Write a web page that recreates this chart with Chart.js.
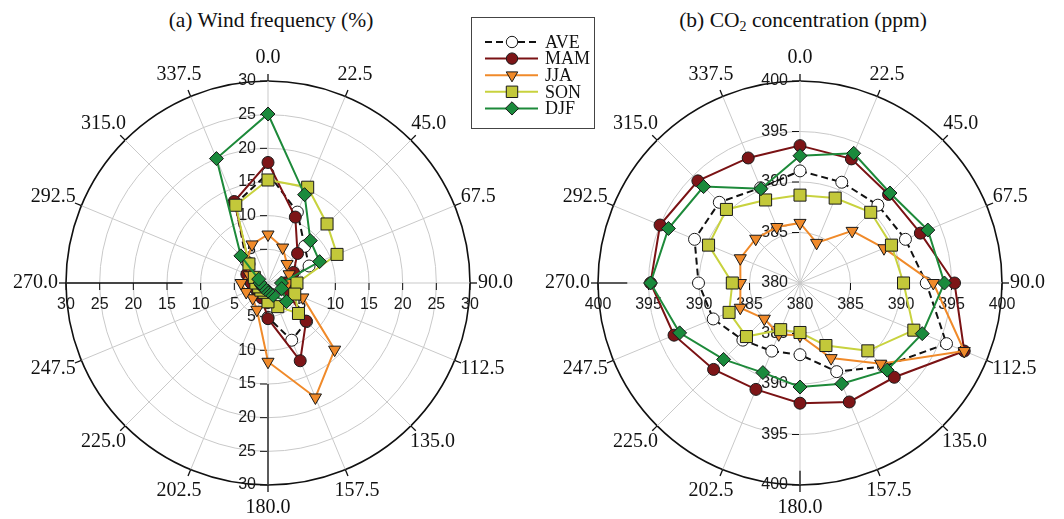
<!DOCTYPE html>
<html>
<head>
<meta charset="utf-8">
<script src="https://cdn.jsdelivr.net/npm/chart.js@4.4.1/dist/chart.umd.min.js"></script>
<style>
  html, body { margin:0; padding:0; background:#fff; }
  #wrap { position:relative; width:1064px; height:519px; overflow:hidden; }
  canvas { position:absolute; top:0; }
  .title { position:absolute; top:7px; font-family:"Liberation Serif","Times New Roman",serif; font-size:21.5px; line-height:26px; color:#111; white-space:nowrap; transform:translateX(-50%); }
  .title sub { font-size:14px; vertical-align:-4px; line-height:0; }
</style>
</head>
<body>
<div id="wrap">
  <div class="title" style="left:271px">(a) Wind frequency (%)</div>
  <div class="title" style="left:803px">(b) CO<sub>2</sub> concentration (ppm)</div>
  <canvas id="c1" width="600" height="519" style="left:0"></canvas>
  <canvas id="c2" width="532" height="519" style="left:532px"></canvas>
</div>
<script>
// ---------- data ----------
const directions = ['0.0','22.5','45.0','67.5','90.0','112.5','135.0','157.5','180.0','202.5','225.0','247.5','270.0','292.5','315.0','337.5'];
const seriesNames = ['AVE','MAM','JJA','SON','DJF'];

const windTicks = [0,5,10,15,20,25,30];
const windAVE = [16.3, 11.4, 7.7, 6.6, 2.6, 3.4, 8.1, 9.2, 5.1, 2.3, 2.1, 2.1, 2.4, 2.7, 4.5, 12.7];
const windMAM = [17.9, 10.6, 6.2, 4.1, 2.8, 3.0, 8.0, 12.5, 5.3, 2.4, 2.0, 2.0, 2.5, 3.4, 4.0, 13.1];
const windJJA = [7.2, 5.7, 4.0, 3.4, 3.0, 5.6, 14.0, 18.4, 11.7, 4.3, 3.2, 3.5, 4.0, 3.0, 4.5, 6.2];
const windSON = [15.3, 15.4, 12.4, 11.1, 4.3, 4.3, 6.4, 3.8, 2.8, 1.5, 1.5, 1.5, 1.8, 2.2, 4.0, 12.5];
const windDJF = [25.1, 14.2, 8.9, 8.3, 2.0, 2.2, 3.9, 2.0, 1.2, 1.0, 1.0, 1.0, 1.2, 1.5, 5.7, 20.0];

const co2Ticks = [380,385,390,395,400];
const co2AVE = [391.1, 390.8, 390.9, 391.3, 392.5, 395.7, 391.7, 389.5, 387.1, 387.3, 388.0, 389.3, 390.05, 391.3, 391.3, 390.2];
const co2MAM = [393.6, 393.3, 392.4, 392.9, 395.3, 397.6, 393.2, 392.75, 391.9, 391.4, 392.1, 393.5, 394.8, 395.0, 394.3, 393.4];
const co2JJA = [385.95, 384.3, 387.3, 389.0, 393.2, 397.6, 391.3, 388.05, 385.2, 385.5, 385.0, 386.4, 385.9, 386.4, 386.2, 386.0];
const co2SON = [388.7, 389.1, 389.9, 389.8, 390.25, 392.2, 389.5, 386.7, 384.9, 385.0, 387.5, 387.6, 386.7, 389.8, 390.3, 388.9];
const co2DJF = [392.6, 393.9, 392.6, 393.7, 394.3, 393.1, 392.2, 390.8, 390.3, 389.6, 390.7, 392.9, 394.8, 394.1, 393.5, 390.1];

// ---------- styles ----------
const seriesStyle = {
  AVE: { line:'#111111', fill:'#ffffff', point:'circle',   radius:6,   rotation:0,   dash:[7,4], order:5 },
  MAM: { line:'#7a1214', fill:'#7d1517', point:'circle',   radius:6,   rotation:0,   dash:[],    order:4 },
  JJA: { line:'#f08a2a', fill:'#f08a2a', point:'triangle', radius:7,   rotation:180, dash:[],    order:3 },
  SON: { line:'#c8d23e', fill:'#c3c83a', point:'rect',     radius:8.5, rotation:0,   dash:[],    order:2 },
  DJF: { line:'#1d8a3a', fill:'#1a8a3c', point:'rectRot',  radius:7,   rotation:0,   dash:[],    order:1 }
};

function buildDatasets(arrs) {
  return seriesNames.map((name, i) => {
    const st = seriesStyle[name];
    return {
      label: name,
      data: arrs[i],
      borderColor: st.line,
      borderWidth: 2,
      borderDash: st.dash,
      backgroundColor: st.fill,
      fill: false,
      tension: 0,
      pointStyle: st.point,
      pointRadius: st.radius,
      pointRotation: st.rotation,
      pointBackgroundColor: st.fill,
      pointBorderColor: '#1a1a1a',
      pointBorderWidth: 1,
      order: st.order
    };
  });
}

function decorPlugin(ticks, withLegend) {
  return {
    id: 'decor',
    beforeDatasetsDraw(chart) {
      const s = chart.scales.r, ctx = chart.ctx;
      const cx = s.xCenter, cy = s.yCenter, R = s.drawingArea;
      const n = chart.data.labels.length;
      ctx.save();
      // outer tick marks
      ctx.strokeStyle = '#111'; ctx.lineWidth = 1.3;
      for (let i = 0; i < n; i++) {
        const a = s.getPointPosition(i, R), b = s.getPointPosition(i, R + 7);
        ctx.beginPath(); ctx.moveTo(a.x, a.y); ctx.lineTo(b.x, b.y); ctx.stroke();
      }
      // black axis segments
      const minV = ticks[0], maxV = ticks[ticks.length - 1];
      const span = maxV - minV;
      const hEnd = s.getDistanceFromCenterForValue(minV + span * (withLegend ? 0.423 : 0.855));
      const vEnd = s.getDistanceFromCenterForValue(minV + span * (withLegend ? 0.5 : 0.93));
      ctx.lineWidth = 1.3;
      ctx.beginPath(); ctx.moveTo(cx - R, cy); ctx.lineTo(cx - hEnd, cy); ctx.stroke();
      ctx.beginPath(); ctx.moveTo(cx, cy + vEnd); ctx.lineTo(cx, cy + R); ctx.stroke();
      // tick marks and tick labels
      ctx.lineWidth = 1;
      ctx.font = '16px "Liberation Sans", Arial, sans-serif';
      ctx.fillStyle = '#1a1a1a';
      ticks.forEach(v => {
        const d = s.getDistanceFromCenterForValue(v);
        const t = String(v);
        ctx.textBaseline = 'middle';
        // horizontal axis
        ctx.textAlign = 'center';
        if (d === 0) {
          ctx.fillText(t, cx, cy + 22);
        } else {
          ctx.fillText(t, cx - d, cy + 22);
          ctx.fillText(t, cx + d, cy + 22);
          ctx.beginPath();
          ctx.moveTo(cx - d, cy); ctx.lineTo(cx - d, cy + 7);
          ctx.moveTo(cx + d, cy); ctx.lineTo(cx + d, cy + 7);
          ctx.stroke();
        }
        // vertical axis
        ctx.textAlign = 'right';
        if (d === 0) {
          ctx.fillText(t, cx - 12, cy);
        } else {
          ctx.fillText(t, cx - 12, cy - d);
          ctx.fillText(t, cx - 12, cy + d);
          ctx.beginPath();
          ctx.moveTo(cx - 8, cy - d); ctx.lineTo(cx - 1, cy - d);
          ctx.moveTo(cx - 8, cy + d); ctx.lineTo(cx - 1, cy + d);
          ctx.stroke();
        }
      });
      // direction labels
      ctx.font = '20px "Liberation Serif", "Times New Roman", serif';
      ctx.fillStyle = '#111';
      ctx.textAlign = 'center'; ctx.textBaseline = 'middle';
      chart.data.labels.forEach((lab, i) => {
        const p = s.getPointPosition(i, R + 8);
        const ang = i * 2 * Math.PI / n;
        const w = ctx.measureText(lab).width;
        const x = p.x + Math.sin(ang) * w / 2;
        const y = p.y - Math.cos(ang) * 15;
        ctx.fillText(lab, x, y);
      });
      ctx.restore();
    },
    afterDraw(chart) {
      if (!withLegend) return;
      const ctx = chart.ctx;
      ctx.save();
      ctx.strokeStyle = '#444'; ctx.lineWidth = 1;
      ctx.strokeRect(471.5, 17.5, 123, 111);
      ctx.font = '18px "Liberation Serif", "Times New Roman", serif';
      ctx.textAlign = 'left'; ctx.textBaseline = 'middle';
      chart.data.datasets.forEach((ds, i) => {
        const y = 42 + i * 16.6;
        ctx.strokeStyle = ds.borderColor; ctx.lineWidth = 2;
        ctx.setLineDash(ds.borderDash || []);
        ctx.beginPath(); ctx.moveTo(485, y); ctx.lineTo(538, y); ctx.stroke();
        ctx.setLineDash([]);
        ctx.fillStyle = ds.pointBackgroundColor; ctx.strokeStyle = ds.pointBorderColor; ctx.lineWidth = 1;
        const r = ds.pointRadius * 0.95;
        if (Chart.helpers && Chart.helpers.drawPoint) {
          Chart.helpers.drawPoint(ctx, { pointStyle: ds.pointStyle, rotation: ds.pointRotation, radius: r, borderWidth: 1 }, 512, y);
        } else {
          ctx.beginPath(); ctx.arc(512, y, r, 0, Math.PI * 2); ctx.fill(); ctx.stroke();
        }
        ctx.fillStyle = '#111';
        ctx.fillText(ds.label, 545, y + 1);
      });
      ctx.restore();
    }
  };
}

function makeChart(id, arrs, ticks, padding, withLegend) {
  const tickMin = ticks[0], tickMax = ticks[ticks.length - 1];
  return new Chart(document.getElementById(id), {
    type: 'radar',
    data: { labels: directions, datasets: buildDatasets(arrs) },
    options: {
      responsive: false,
      animation: false,
      devicePixelRatio: 1,
      layout: { padding: padding },
      plugins: { legend: { display: false }, tooltip: { enabled: false }, title: { display: false } },
      scales: {
        r: {
          min: tickMin, max: tickMax,
          startAngle: 0,
          ticks: { display: false, stepSize: ticks[1] - ticks[0] },
          pointLabels: { display: false },
          grid: {
            circular: true,
            color: c => (c.tick && c.tick.value === tickMax) ? '#111' : '#c9c9c9',
            lineWidth: c => (c.tick && c.tick.value === tickMax) ? 1.6 : 1
          },
          angleLines: { display: true, color: '#c9c9c9', lineWidth: 1 }
        }
      },
      elements: { line: { borderJoinStyle: 'miter' } }
    },
    plugins: [decorPlugin(ticks, withLegend)]
  });
}

makeChart('c1', [windAVE, windMAM, windJJA, windSON, windDJF], windTicks, { left:66, top:81, right:130, bottom:34 }, true);
makeChart('c2', [co2AVE, co2MAM, co2JJA, co2SON, co2DJF], co2Ticks, { left:66, top:81, right:62, bottom:34 }, false);
</script>
</body>
</html>
